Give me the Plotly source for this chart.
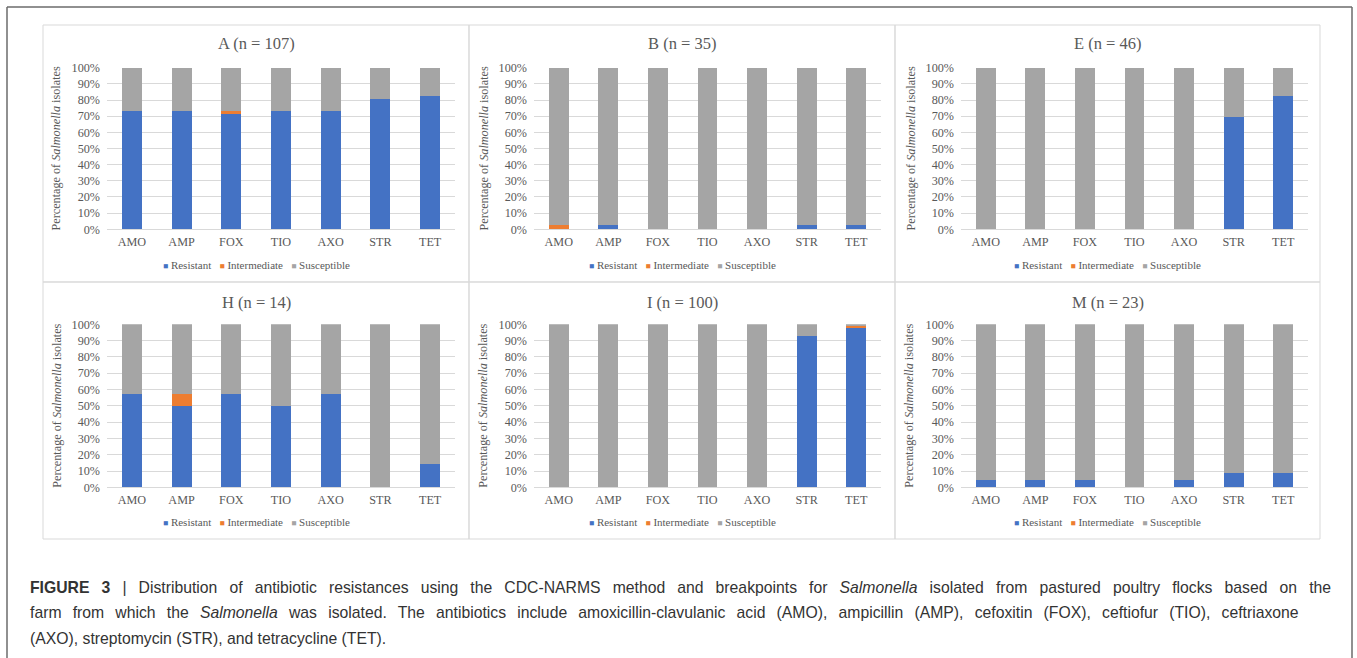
import plotly.graph_objects as go

W, H = 1357, 658

# ---- data -------------------------------------------------------------
antibiotics = ["AMO", "AMP", "FOX", "TIO", "AXO", "STR", "TET"]
panel_titles = ["A (n = 107)", "B (n = 35)", "E (n = 46)",
                "H (n = 14)", "I (n = 100)", "M (n = 23)"]

resistant_A = [72.9, 72.9, 72.0, 72.9, 72.9, 80.4, 82.2]
intermediate_A = [0, 0, 0.9, 0, 0, 0, 0]
susceptible_A = [27.1, 27.1, 27.1, 27.1, 27.1, 19.6, 17.8]

resistant_B = [0, 2.9, 0, 0, 0, 2.9, 2.9]
intermediate_B = [2.9, 0, 0, 0, 0, 0, 0]
susceptible_B = [97.1, 97.1, 100, 100, 100, 97.1, 97.1]

resistant_E = [0, 0, 0, 0, 0, 69.6, 82.6]
intermediate_E = [0, 0, 0, 0, 0, 0, 0]
susceptible_E = [100, 100, 100, 100, 100, 30.4, 17.4]

resistant_H = [57.1, 50.0, 57.1, 50.0, 57.1, 0, 14.3]
intermediate_H = [0, 7.1, 0, 0, 0, 0, 0]
susceptible_H = [42.9, 42.9, 42.9, 50.0, 42.9, 100, 85.7]

resistant_I = [0, 0, 0, 0, 0, 93.0, 98.0]
intermediate_I = [0, 0, 0, 0, 0, 0, 1.0]
susceptible_I = [100, 100, 100, 100, 100, 7.0, 1.0]

resistant_M = [4.3, 4.3, 4.3, 0, 4.3, 8.7, 8.7]
intermediate_M = [0, 0, 0, 0, 0, 0, 0]
susceptible_M = [95.7, 95.7, 95.7, 100, 95.7, 91.3, 91.3]

series_names = ["Resistant", "Intermediate", "Susceptible"]
y_tick_values = [0, 10, 20, 30, 40, 50, 60, 70, 80, 90, 100]
y_tick_labels = ["0%", "10%", "20%", "30%", "40%", "50%",
                 "60%", "70%", "80%", "90%", "100%"]

panel_data = [
    (resistant_A, intermediate_A, susceptible_A),
    (resistant_B, intermediate_B, susceptible_B),
    (resistant_E, intermediate_E, susceptible_E),
    (resistant_H, intermediate_H, susceptible_H),
    (resistant_I, intermediate_I, susceptible_I),
    (resistant_M, intermediate_M, susceptible_M),
]

# ---- styling ----------------------------------------------------------
COLORS = ["#4472C4", "#ED7D31", "#A5A5A5"]
GRID = "#D9D9D9"
TEXT = "#595959"
SERIF = "Liberation Serif, Times New Roman, serif"
SANS = "Liberation Sans, Arial, sans-serif"


def px_x(x):
    return x / W


def px_y(y):
    return 1 - y / H


# pixel geometry of each chart: panel box and plot area
col_boxes = [(43, 469), (469, 895), (895, 1320)]
row_boxes = [(25, 282), (282, 539)]
col_plots = [(107, 455), (534, 881), (961, 1308)]
row_plots = [(67.7, 229.3), (324.3, 487.3)]
title_y = [44, 302]
legend_y = [265, 522]
ytitle_x = [[55, 483, 910], [57, 483, 909]]

fig = go.Figure()
annotations = []
shapes = []
layout_axes = {}

for k, (title, values) in enumerate(zip(panel_titles, panel_data)):
    r, c = divmod(k, 3)
    ax = "" if k == 0 else str(k + 1)
    xref, yref = "x" + ax, "y" + ax
    for name, vals, col in zip(series_names, values, COLORS):
        fig.add_trace(go.Bar(
            x=antibiotics, y=vals, name=name,
            marker=dict(color=col, line=dict(width=0)),
            xaxis=xref, yaxis=yref, showlegend=False,
        ))
    x0, x1 = col_plots[c]
    ytop, ybot = row_plots[r]
    layout_axes["xaxis" + ax] = dict(
        domain=[px_x(x0), px_x(x1)], anchor=yref, automargin=False,
        showgrid=False, showline=True, linecolor=GRID, linewidth=1,
        ticks="", tickfont=dict(family=SERIF, size=12.2, color=TEXT),
        ticklabelstandoff=1, fixedrange=True,
    )
    layout_axes["yaxis" + ax] = dict(
        domain=[px_y(ybot), px_y(ytop)], anchor=xref, automargin=False,
        range=[0, 100], tickmode="array",
        tickvals=y_tick_values, ticktext=y_tick_labels,
        showgrid=True, gridcolor=GRID, gridwidth=1, zeroline=False,
        showline=False, ticks="", ticklabelstandoff=6,
        tickfont=dict(family=SERIF, size=12.2, color=TEXT), fixedrange=True,
    )

    bx0, bx1 = col_boxes[c]
    by0, by1 = row_boxes[r]
    shapes.append(dict(type="rect", xref="paper", yref="paper",
                       x0=px_x(bx0), x1=px_x(bx1), y0=px_y(by1), y1=px_y(by0),
                       line=dict(color=GRID, width=1), fillcolor="rgba(0,0,0,0)"))
    cx = (bx0 + bx1) / 2
    # chart title
    annotations.append(dict(
        text=title, x=px_x(cx), y=px_y(title_y[r]), xref="paper", yref="paper",
        xanchor="center", yanchor="middle", showarrow=False,
        font=dict(family=SERIF, size=16.5, color=TEXT)))
    # vertical axis title
    annotations.append(dict(
        text="Percentage of <i>Salmonella</i> isolates", textangle=-90,
        x=px_x(ytitle_x[r][c]), y=px_y((ytop + ybot) / 2), xref="paper", yref="paper",
        xanchor="center", yanchor="middle", showarrow=False,
        font=dict(family=SERIF, size=12.2, color=TEXT)))
    # legend row: small coloured squares followed by series names
    sq = "<span style='color:{};font-size:8.5px'>\u25A0</span>"
    legend_text = "\u00a0\u00a0\u00a0".join(
        sq.format(col) + "\u00a0" + name for name, col in zip(series_names, COLORS))
    annotations.append(dict(
        text=legend_text, x=px_x(cx), y=px_y(legend_y[r]), xref="paper", yref="paper",
        xanchor="center", yanchor="middle", showarrow=False,
        font=dict(family=SERIF, size=11, color=TEXT)))

# outer frame (left, top, right)
for (xa, ya, xb, yb) in [(7, 7, 7, 658), (7, 7, 1352, 7), (1352, 7, 1352, 658)]:
    shapes.append(dict(type="line", xref="paper", yref="paper",
                       x0=px_x(xa), y0=px_y(ya), x1=px_x(xb), y1=px_y(yb),
                       line=dict(color="#6b6b6b", width=1.5)))

# caption, first two lines justified via word spacing
caption_lines = [
    "<b>FIGURE 3</b> | Distribution of antibiotic resistances using the CDC-NARMS method and "
    "breakpoints for <i>Salmonella</i> isolated from pastured poultry flocks based on the",
    "farm from which the <i>Salmonella</i> was isolated. The antibiotics include "
    "amoxicillin-clavulanic acid (AMO), ampicillin (AMP), cefoxitin (FOX), ceftiofur (TIO), ceftriaxone",
    "(AXO), streptomycin (STR), and tetracycline (TET).",
]
caption_word_spacing = [7.7, 6.8, 0]
for line, yy, ws in zip(caption_lines, [587, 612, 638], caption_word_spacing):
    txt = "<span style='word-spacing:{}px'>{}</span>".format(ws, line) if ws else line
    annotations.append(dict(
        text=txt, x=px_x(28), y=px_y(yy), xref="paper", yref="paper",
        xanchor="left", yanchor="middle", showarrow=False,
        font=dict(family=SANS, size=15.75, color="#333333")))

fig.update_layout(
    template="none",
    width=W, height=H,
    margin=dict(l=0, r=0, t=0, b=0, pad=0, autoexpand=False),
    paper_bgcolor="white", plot_bgcolor="white",
    barmode="stack", bargap=0.6, showlegend=False,
    annotations=annotations, shapes=shapes, **layout_axes,
)

fig.write_html(
    "out.html",
    config={"displayModeBar": False},
    post_script="document.body.style.margin='0';",
)
